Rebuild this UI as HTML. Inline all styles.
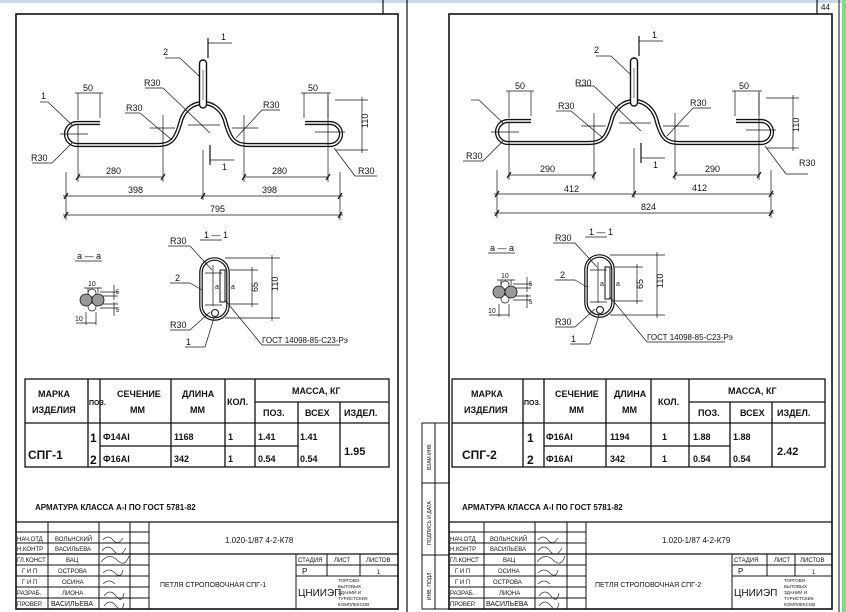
<!DOCTYPE html>
<html><head><meta charset="utf-8"><style>
html,body{margin:0;padding:0;background:#fff}
svg{display:block}
text{font-family:"Liberation Sans","DejaVu Sans",sans-serif;fill:#111}
.t{font-size:9px;font-weight:bold}
.s{font-size:6px}
.d{font-size:9px}
</style></head><body>
<svg width="846" height="612" viewBox="0 0 846 612" xmlns="http://www.w3.org/2000/svg">
<rect x="0" y="0" width="846" height="612" fill="#fff"/>
<rect x="0" y="0" width="846" height="3" fill="#c9d6e3"/>
<rect x="842" y="0" width="4" height="612" fill="#7be07b"/>
<defs>
<g id="bar">
  <path d="M100,123 L77,123 A11,11 0 0 0 77,145 L158,145 C172,145 176,138 180,124 C186,96 220,96 226,124 C230,138 234,145 248,145 L330,145 A11,11 0 0 0 330,123 L305,123" fill="none" stroke="#111" stroke-width="4.2"/>
  <path d="M100,123 L77,123 A11,11 0 0 0 77,145 L158,145 C172,145 176,138 180,124 C186,96 220,96 226,124 C230,138 234,145 248,145 L330,145 A11,11 0 0 0 330,123 L305,123" fill="none" stroke="#fff" stroke-width="1.6"/>
  <rect x="199.5" y="60" width="7" height="48" rx="3.5" fill="#fff" stroke="#111" stroke-width="1.4"/>
  <line x1="203" y1="70" x2="203" y2="100" stroke="#111" stroke-width="0.6"/>
  <g stroke="#111" stroke-width="0.7" fill="none">
    <line x1="60" y1="134" x2="88" y2="134"/><line x1="78" y1="124" x2="78" y2="182"/>
    <line x1="315" y1="132" x2="345" y2="132"/><line x1="328" y1="95" x2="328" y2="182"/>
    <line x1="188" y1="125" x2="220" y2="125"/><line x1="203" y1="150" x2="203" y2="200"/>
    <line x1="150" y1="128" x2="175" y2="128"/><line x1="163" y1="115" x2="163" y2="182"/>
    <line x1="232" y1="128" x2="258" y2="128"/><line x1="244" y1="115" x2="244" y2="182"/>
    <line x1="78" y1="93" x2="78" y2="120"/><line x1="100" y1="93" x2="100" y2="118"/>
    <line x1="75" y1="93" x2="103" y2="93"/>
    <line x1="304" y1="93" x2="304" y2="118"/><line x1="328" y1="93" x2="328" y2="118"/>
    <line x1="301" y1="93" x2="331" y2="93"/>
    <line x1="335" y1="100" x2="368" y2="100"/><line x1="335" y1="150" x2="368" y2="150"/>
    <line x1="362" y1="97" x2="362" y2="153"/>
    <line x1="78" y1="177" x2="163" y2="177"/><line x1="244" y1="177" x2="328" y2="177"/>
    <line x1="66" y1="172" x2="66" y2="220"/><line x1="340" y1="172" x2="340" y2="220"/>
    <line x1="63" y1="196" x2="343" y2="196"/><line x1="63" y1="215" x2="343" y2="215"/>
    <line x1="208" y1="43" x2="232" y2="43"/>
    <line x1="210" y1="160" x2="234" y2="160"/>
    <line x1="40" y1="102" x2="48" y2="102"/><line x1="48" y1="102" x2="72" y2="125"/>
    <line x1="32" y1="163" x2="52" y2="163"/><line x1="52" y1="163" x2="72" y2="143"/>
    <line x1="165" y1="58" x2="180" y2="58"/><line x1="180" y1="58" x2="200" y2="77"/>
    <line x1="145" y1="88" x2="163" y2="88"/><line x1="163" y1="88" x2="210" y2="133"/>
    <line x1="125" y1="113" x2="140" y2="113"/><line x1="140" y1="113" x2="172" y2="140"/>
    <line x1="262" y1="110" x2="280" y2="110"/><line x1="262" y1="110" x2="236" y2="138"/>
    <line x1="355" y1="176" x2="377" y2="176"/><line x1="355" y1="176" x2="334" y2="148"/>
  </g>
  <g stroke="#111" stroke-width="1.2">
    <line x1="76" y1="180" x2="80" y2="174"/><line x1="161" y1="180" x2="165" y2="174"/>
    <line x1="242" y1="180" x2="246" y2="174"/><line x1="326" y1="180" x2="330" y2="174"/>
    <line x1="64" y1="199" x2="68" y2="193"/><line x1="201" y1="199" x2="205" y2="193"/><line x1="338" y1="199" x2="342" y2="193"/>
    <line x1="64" y1="218" x2="68" y2="212"/><line x1="338" y1="218" x2="342" y2="212"/>
    <line x1="208" y1="38" x2="208" y2="58"/><line x1="210" y1="145" x2="210" y2="165"/>
  </g>
</g>
<g id="sec11">
    <rect x="201" y="259" width="27" height="60" rx="13.5" fill="none" stroke="#111" stroke-width="3.6"/>
    <rect x="201" y="259" width="27" height="60" rx="13.5" fill="none" stroke="#fff" stroke-width="1.2"/>
    <rect x="220" y="270" width="5" height="32" fill="#fff" stroke="#111" stroke-width="1"/>
    <circle cx="215" cy="313" r="3.5" fill="#fff" stroke="#111" stroke-width="1"/>
    <g stroke="#111" stroke-width="0.7" fill="none">
      <line x1="205" y1="273" x2="222" y2="273"/><line x1="213" y1="265" x2="213" y2="306"/><line x1="205" y1="305" x2="222" y2="305"/>
      <line x1="225" y1="258" x2="280" y2="258"/><line x1="225" y1="318" x2="280" y2="318"/><line x1="272" y1="255" x2="272" y2="321"/>
      <line x1="230" y1="270" x2="258" y2="270"/><line x1="230" y1="304" x2="258" y2="304"/><line x1="252" y1="267" x2="252" y2="307"/>
      <line x1="168" y1="246" x2="190" y2="246"/><line x1="190" y1="246" x2="212" y2="270"/>
      <line x1="170" y1="283" x2="190" y2="283"/><line x1="190" y1="283" x2="202" y2="290"/>
      <line x1="170" y1="330" x2="190" y2="330"/><line x1="190" y1="330" x2="210" y2="312"/>
      <line x1="185" y1="347" x2="205" y2="347"/><line x1="205" y1="347" x2="214" y2="318"/>
      <line x1="225" y1="300" x2="262" y2="345"/><line x1="262" y1="345" x2="340" y2="345"/>
      <line x1="200" y1="240" x2="222" y2="240"/>
    </g>
    <g class="d">
      <text x="204" y="238">1 — 1</text>
      <text x="170" y="244">R30</text><text x="175" y="281">2</text>
      <text x="170" y="328">R30</text><text x="186" y="345">1</text>
      <text x="262" y="343" style="font-size:8px">ГОСТ 14098-85-С23-Рэ</text>
      <text x="278" y="291" transform="rotate(-90 278 291)">110</text>
      <text x="258" y="292" transform="rotate(-90 258 292)">65</text>
      <text x="215" y="289" style="font-size:7px">a</text><text x="231" y="289" style="font-size:7px">a</text>
    </g>
</g>
<g id="secaa">
    <g stroke="#111" stroke-width="0.7" fill="none">
      <line x1="75" y1="261" x2="102" y2="261"/>
      <line x1="88" y1="288" x2="88" y2="293"/><line x1="98" y1="288" x2="98" y2="293"/><line x1="84" y1="288" x2="102" y2="288"/>
      <line x1="100" y1="292" x2="118" y2="292"/><line x1="100" y1="296" x2="118" y2="296"/><line x1="114" y1="285" x2="114" y2="300"/>
      <line x1="100" y1="304" x2="118" y2="304"/><line x1="100" y1="308" x2="118" y2="308"/><line x1="114" y1="302" x2="114" y2="316"/>
      <line x1="76" y1="323" x2="96" y2="323"/><line x1="86" y1="312" x2="86" y2="325"/><line x1="96" y1="312" x2="96" y2="325"/>
    </g>
    <circle cx="92" cy="293" r="4" fill="#fff" stroke="#111" stroke-width="0.7"/>
    <circle cx="92" cy="307" r="4" fill="#fff" stroke="#111" stroke-width="0.7"/>
    <circle cx="86" cy="300" r="6" fill="#999" stroke="#111" stroke-width="0.8"/>
    <circle cx="98" cy="300" r="6" fill="#999" stroke="#111" stroke-width="0.8"/>
    <g class="d">
      <text x="77" y="259">a — a</text>
      <text x="88" y="286" style="font-size:7px">10</text><text x="75" y="321" style="font-size:7px">10</text>
      <text x="116" y="294" style="font-size:6px">5</text><text x="116" y="312" style="font-size:6px">5</text>
    </g>
</g>
</defs>

<!-- sheet frames -->
<g stroke="#111" fill="none">
  <rect x="16" y="14" width="382" height="595" stroke-width="1.6"/>
  <line x1="383" y1="0" x2="383" y2="14" stroke-width="1.2"/>
  <line x1="407" y1="0" x2="407" y2="612" stroke-width="1.2"/>
  <rect x="449" y="14" width="383" height="595" stroke-width="1.6"/>
  <line x1="817" y1="0" x2="817" y2="14" stroke-width="1.2"/>
  <line x1="839" y1="0" x2="839" y2="612" stroke-width="1"/>
</g>
<text x="821" y="10" class="s" style="font-size:8px">44</text>

<use href="#bar"/>
<use href="#bar" transform="translate(431,-2)"/>
<use href="#sec11"/>
<use href="#sec11" transform="translate(385,-3)"/>
<use href="#secaa"/>
<use href="#secaa" transform="translate(413,-8)"/>

<!-- left drawing labels -->
<g class="d">
<text x="221" y="40">1</text><text x="222" y="170">1</text>
<text x="163" y="55">2</text><text x="41" y="99">1</text>
<text x="83" y="91">50</text><text x="308" y="91">50</text>
<text x="144" y="86">R30</text><text x="126" y="111">R30</text><text x="263" y="108">R30</text>
<text x="31" y="161">R30</text><text x="358" y="174">R30</text>
<text x="106" y="174">280</text><text x="272" y="174">280</text>
<text x="128" y="193">398</text><text x="262" y="193">398</text>
<text x="210" y="212">795</text>
<text x="368" y="128" transform="rotate(-90 368 128)">110</text>
</g>
<!-- right drawing labels -->
<g class="d">
<text x="652" y="38">1</text><text x="653" y="168">1</text>
<text x="594" y="53">2</text>
<text x="515" y="89">50</text><text x="739" y="89">50</text>
<text x="575" y="86">R30</text><text x="558" y="109">R30</text><text x="690" y="106">R30</text>
<text x="466" y="159">R30</text><text x="799" y="166">R30</text>
<text x="540" y="172">290</text><text x="705" y="172">290</text>
<text x="564" y="192">412</text><text x="692" y="191">412</text>
<text x="641" y="210">824</text>
<text x="799" y="132" transform="rotate(-90 799 132)">110</text>
</g>

<!-- tables -->
<g stroke="#111" fill="none" stroke-width="1.3">
  <rect x="25" y="379" width="364" height="88"/>
  <line x1="25" y1="423" x2="389" y2="423"/>
  <line x1="100" y1="446" x2="298" y2="446"/>
  <line x1="255" y1="402" x2="389" y2="402"/>
  <line x1="88" y1="379" x2="88" y2="467"/><line x1="100" y1="379" x2="100" y2="467"/>
  <line x1="171" y1="379" x2="171" y2="467"/><line x1="225" y1="379" x2="225" y2="467"/>
  <line x1="255" y1="379" x2="255" y2="467"/><line x1="298" y1="402" x2="298" y2="467"/>
  <line x1="340" y1="402" x2="340" y2="467"/>
  <rect x="452" y="379" width="373" height="88"/>
  <line x1="452" y1="423" x2="825" y2="423"/>
  <line x1="544" y1="446" x2="730" y2="446"/>
  <line x1="689" y1="402" x2="825" y2="402"/>
  <line x1="523" y1="379" x2="523" y2="467"/><line x1="544" y1="379" x2="544" y2="467"/>
  <line x1="606" y1="379" x2="606" y2="467"/><line x1="651" y1="379" x2="651" y2="467"/>
  <line x1="689" y1="379" x2="689" y2="467"/><line x1="730" y1="402" x2="730" y2="467"/>
  <line x1="772" y1="402" x2="772" y2="467"/>
</g>
<g class="t">
<text x="38" y="397">МАРКА</text><text x="32" y="413">ИЗДЕЛИЯ</text>
<text x="89" y="405" style="font-size:7px">ПОЗ.</text>
<text x="117" y="397">СЕЧЕНИЕ</text><text x="130" y="413">ММ</text>
<text x="182" y="397">ДЛИНА</text><text x="190" y="413">ММ</text>
<text x="227" y="405">КОЛ.</text>
<text x="292" y="394">МАССА, КГ</text>
<text x="263" y="416">ПОЗ.</text><text x="305" y="416">ВСЕХ</text><text x="344" y="416">ИЗДЕЛ.</text>
<text x="28" y="459" style="font-size:12px">СПГ-1</text>
<text x="90" y="442" style="font-size:12px">1</text><text x="90" y="464" style="font-size:12px">2</text>
<text x="103" y="440">Ф14АI</text><text x="103" y="462">Ф16АI</text>
<text x="174" y="440">1168</text><text x="174" y="462">342</text>
<text x="228" y="440">1</text><text x="228" y="462">1</text>
<text x="258" y="440">1.41</text><text x="258" y="462">0.54</text>
<text x="300" y="440">1.41</text><text x="300" y="462">0.54</text>
<text x="344" y="455" style="font-size:11px">1.95</text>
<text x="35" y="510" style="font-size:8px">АРМАТУРА КЛАССА А-I ПО ГОСТ 5781-82</text>

<text x="471" y="397">МАРКА</text><text x="464" y="413">ИЗДЕЛИЯ</text>
<text x="524" y="405" style="font-size:7px">ПОЗ.</text>
<text x="555" y="397">СЕЧЕНИЕ</text><text x="569" y="413">ММ</text>
<text x="614" y="397">ДЛИНА</text><text x="622" y="413">ММ</text>
<text x="658" y="405">КОЛ.</text>
<text x="728" y="394">МАССА, КГ</text>
<text x="698" y="416">ПОЗ.</text><text x="740" y="416">ВСЕХ</text><text x="777" y="416">ИЗДЕЛ.</text>
<text x="462" y="459" style="font-size:12px">СПГ-2</text>
<text x="527" y="442" style="font-size:12px">1</text><text x="527" y="464" style="font-size:12px">2</text>
<text x="546" y="440">Ф16АI</text><text x="546" y="462">Ф16АI</text>
<text x="610" y="440">1194</text><text x="610" y="462">342</text>
<text x="662" y="440">1</text><text x="662" y="462">1</text>
<text x="693" y="440">1.88</text><text x="693" y="462">0.54</text>
<text x="733" y="440">1.88</text><text x="733" y="462">0.54</text>
<text x="777" y="455" style="font-size:11px">2.42</text>
<text x="462" y="510" style="font-size:8px">АРМАТУРА КЛАССА А-I ПО ГОСТ 5781-82</text>
</g>

<!-- title blocks -->
<g stroke="#111" fill="none" stroke-width="1">
  <line x1="16" y1="522" x2="398" y2="522" stroke-width="1.3"/>
  <line x1="16" y1="532" x2="149" y2="532"/><line x1="16" y1="543" x2="149" y2="543"/>
  <line x1="16" y1="554" x2="398" y2="554" stroke-width="1.3"/><line x1="16" y1="565" x2="149" y2="565"/>
  <line x1="16" y1="576" x2="149" y2="576"/><line x1="16" y1="587" x2="149" y2="587"/>
  <line x1="16" y1="598" x2="149" y2="598"/>
  <line x1="48" y1="522" x2="48" y2="609"/><line x1="99" y1="522" x2="99" y2="609"/>
  <line x1="130" y1="522" x2="130" y2="609"/><line x1="149" y1="522" x2="149" y2="609"/>
  <line x1="296" y1="554" x2="296" y2="609"/><line x1="296" y1="565" x2="398" y2="565"/>
  <line x1="296" y1="576" x2="398" y2="576"/>
  <line x1="327" y1="554" x2="327" y2="576"/><line x1="360" y1="554" x2="360" y2="576"/>
  <line x1="449" y1="522" x2="832" y2="522" stroke-width="1.3"/>
  <line x1="449" y1="532" x2="586" y2="532"/><line x1="449" y1="543" x2="586" y2="543"/>
  <line x1="449" y1="554" x2="832" y2="554" stroke-width="1.3"/><line x1="449" y1="565" x2="586" y2="565"/>
  <line x1="449" y1="576" x2="586" y2="576"/><line x1="449" y1="587" x2="586" y2="587"/>
  <line x1="449" y1="598" x2="586" y2="598"/>
  <line x1="484" y1="522" x2="484" y2="609"/><line x1="535" y1="522" x2="535" y2="609"/>
  <line x1="567" y1="522" x2="567" y2="609"/><line x1="586" y1="522" x2="586" y2="609"/>
  <line x1="732" y1="554" x2="732" y2="609"/><line x1="732" y1="565" x2="832" y2="565"/>
  <line x1="732" y1="576" x2="832" y2="576"/>
  <line x1="767" y1="554" x2="767" y2="576"/><line x1="795" y1="554" x2="795" y2="576"/>
  <rect x="422" y="423" width="27" height="186"/>
  <line x1="435" y1="423" x2="435" y2="609"/>
  <line x1="422" y1="483" x2="449" y2="483"/><line x1="422" y1="555" x2="449" y2="555"/>
</g>
<g class="s">
<text x="17" y="541">НАЧ.ОТД</text><text x="55" y="541">ВОЛЬНСКИЙ</text>
<text x="17" y="551">Н.КОНТР</text><text x="55" y="551">ВАСИЛЬЕВА</text>
<text x="17" y="562">ГЛ.КОНСТ</text><text x="66" y="562">ВАЦ</text>
<text x="22" y="573">Г И П</text><text x="58" y="573">ОСТРОВА</text>
<text x="22" y="584">Г И П</text><text x="62" y="584">ОСИНА</text>
<text x="17" y="595">РАЗРАБ.</text><text x="62" y="595">ЛИОНА</text>
<text x="17" y="606">ПРОВЕР.</text><text x="51" y="606" style="font-size:7px">ВАСИЛЬЕВА</text>
<text x="225" y="543" style="font-size:8px">1.020-1/87  4-2-К78</text>
<text x="298" y="562">СТАДИЯ</text><text x="334" y="562">ЛИСТ</text><text x="366" y="562">ЛИСТОВ</text>
<text x="302" y="574" style="font-size:8px">Р</text><text x="377" y="574">1</text>
<text x="160" y="587" style="font-size:7px">ПЕТЛЯ СТРОПОВОЧНАЯ СПГ-1</text>
<text x="298" y="596" style="font-size:10px">ЦНИИЭП</text>
<text x="338" y="582" style="font-size:4.5px">ТОРГОВО-</text><text x="338" y="588" style="font-size:4.5px">БЫТОВЫХ</text>
<text x="338" y="594" style="font-size:4.5px">ЗДАНИЙ И</text><text x="338" y="600" style="font-size:4.5px">ТУРИСТСКИХ</text>
<text x="338" y="606" style="font-size:4.5px">КОМПЛЕКСОВ</text>

<text x="450" y="541">НАЧ.ОТД</text><text x="490" y="541">ВОЛЬНСКИЙ</text>
<text x="450" y="551">Н.КОНТР</text><text x="490" y="551">ВАСИЛЬЕВА</text>
<text x="450" y="562">ГЛ.КОНСТ</text><text x="503" y="562">ВАЦ</text>
<text x="455" y="573">Г И П</text><text x="498" y="573">ОСИНА</text>
<text x="455" y="584">Г И П</text><text x="493" y="584">ОСТРОВА</text>
<text x="450" y="595">РАЗРАБ.</text><text x="499" y="595">ЛИОНА</text>
<text x="450" y="606">ПРОВЕР.</text><text x="486" y="606" style="font-size:7px">ВАСИЛЬЕВА</text>
<text x="662" y="543" style="font-size:8px">1.020-1/87  4-2-К79</text>
<text x="734" y="562">СТАДИЯ</text><text x="774" y="562">ЛИСТ</text><text x="800" y="562">ЛИСТОВ</text>
<text x="738" y="574" style="font-size:8px">Р</text><text x="812" y="574">1</text>
<text x="595" y="587" style="font-size:7px">ПЕТЛЯ СТРОПОВОЧНАЯ СПГ-2</text>
<text x="734" y="596" style="font-size:10px">ЦНИИЭП</text>
<text x="784" y="582" style="font-size:4.5px">ТОРГОВО-</text><text x="784" y="588" style="font-size:4.5px">БЫТОВЫХ</text>
<text x="784" y="594" style="font-size:4.5px">ЗДАНИЙ И</text><text x="784" y="600" style="font-size:4.5px">ТУРИСТСКИХ</text>
<text x="784" y="606" style="font-size:4.5px">КОМПЛЕКСОВ</text>
<text x="431" y="470" transform="rotate(-90 431 470)" style="font-size:5px">ВЗАМ.ИНВ.</text>
<text x="431" y="545" transform="rotate(-90 431 545)" style="font-size:5px">ПОДПИСЬ И ДАТА</text>
<text x="431" y="600" transform="rotate(-90 431 600)" style="font-size:5px">ИНВ. ПОДЛ.</text>
</g>
<g stroke="#333" stroke-width="0.7" fill="none">
  <path d="M103,540 q5,-6 10,0 t10,-2"/><path d="M102,551 q6,-8 12,0 t12,-3"/>
  <path d="M101,562 q8,-10 16,-2 t12,-4"/><path d="M103,573 q6,-6 12,0 t8,-3"/>
  <path d="M103,584 q6,-6 12,0"/><path d="M104,596 q6,-8 12,0 t8,-3"/><path d="M104,606 q6,-8 12,0 t8,-3"/>
  <path d="M538,540 q5,-6 10,0 t10,-2"/><path d="M538,551 q6,-8 12,0 t12,-3"/>
  <path d="M537,562 q8,-10 16,-2 t12,-4"/><path d="M538,573 q6,-6 12,0 t8,-3"/>
  <path d="M538,584 q6,-6 12,0"/><path d="M539,596 q6,-8 12,0 t8,-3"/><path d="M539,606 q6,-8 12,0 t8,-3"/>
</g>
</svg>
</body></html>
